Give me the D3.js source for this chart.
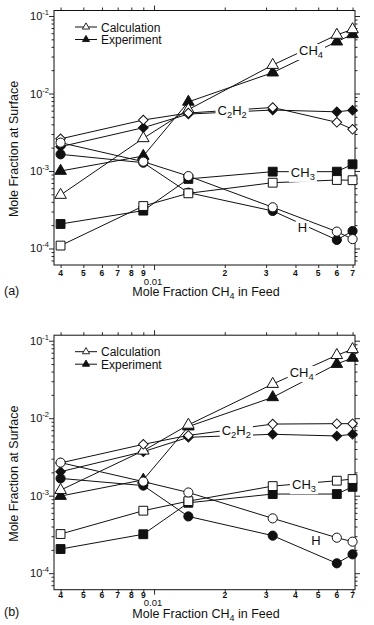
<!DOCTYPE html>
<html>
<head>
<meta charset="utf-8">
<script src="https://cdn.jsdelivr.net/npm/d3@7"></script>
<style>
  body { margin: 0; background: #fff; }
  svg text { font-family: "Liberation Sans", Arial, sans-serif; fill: #111; }
</style>
</head>
<body>
<svg width="374" height="625"></svg>
<script>
// Feed mole fraction of CH4 (x values, shared by all series)
const feed = [0.004, 0.009, 0.014, 0.032, 0.06, 0.07];

// Panel (a)
const ch4CalcA = [4.9e-4, 2.64e-3, 6.2e-3, 0.0233, 0.057, 0.0673];
const ch4ExpA = [1.0e-3, 1.56e-3, 7.8e-3, 0.0186, 0.0467, 0.058];
const c2h2CalcA = [2.6e-3, 4.55e-3, 5.6e-3, 6.6e-3, 4.25e-3, 3.45e-3];
const c2h2ExpA = [2.06e-3, 3.62e-3, 5.43e-3, 6.12e-3, 5.8e-3, 6.1e-3];
const ch3CalcA = [1.09e-4, 3.53e-4, 5.15e-4, 7.06e-4, 7.65e-4, 7.6e-4];
const ch3ExpA = [2.07e-4, 3.08e-4, 7.9e-4, 9.8e-4, 9.8e-4, 1.22e-3];
const hCalcA = [2.32e-3, 1.32e-3, 8.6e-4, 3.4e-4, 1.65e-4, 1.32e-4];
const hExpA = [1.64e-3, 1.28e-3, 5.25e-4, 3.05e-4, 1.29e-4, 1.68e-4];

// Panel (b)
const ch4CalcB = [1.18e-3, 3.8e-3, 8.2e-3, 0.0276, 0.065, 0.0775];
const ch4ExpB = [9.9e-4, 1.6e-3, 7.8e-3, 0.0186, 0.05, 0.06];
const c2h2CalcB = [2.65e-3, 4.6e-3, 6.0e-3, 8.4e-3, 8.5e-3, 8.5e-3];
const c2h2ExpB = [2.04e-3, 3.7e-3, 5.67e-3, 6.2e-3, 5.9e-3, 6.2e-3];
const ch3CalcB = [3.2e-4, 6.4e-4, 8.5e-4, 1.33e-3, 1.56e-3, 1.64e-3];
const ch3ExpB = [2.05e-4, 3.18e-4, 8.1e-4, 1.05e-3, 1.05e-3, 1.3e-3];
const hCalcB = [2.67e-3, 1.52e-3, 1.1e-3, 5.1e-4, 2.87e-4, 2.55e-4];
const hExpB = [1.67e-3, 1.35e-3, 5.4e-4, 3.05e-4, 1.34e-4, 1.75e-4];

// Species labels, placed in data units [x, y]
const labelsA = [["CH4", 0.0466, 0.0333], ["C2H2", 0.0215, 5.6e-3], ["CH3", 0.043, 8.9e-4], ["H", 0.0428, 1.73e-4]];
const labelsB = [["CH4", 0.0425, 0.036], ["C2H2", 0.0224, 6.4e-3], ["CH3", 0.0435, 1.29e-3], ["H", 0.0489, 2.45e-4]];

// Tick labels
const xMinor = [0.004, 0.005, 0.006, 0.007, 0.008, 0.009, 0.02, 0.03, 0.04, 0.05, 0.06, 0.07];
const xMinorLabels = ["4", "5", "6", "7", "8", "9", "2", "3", "4", "5", "6", "7"];
const yMajor = [1e-4, 1e-3, 1e-2, 1e-1];
const yMajorExp = ["-4", "-3", "-2", "-1"];

const svg = d3.select("svg");
const left = 54, right = 355, plotH = 254.5;

const x = d3.scaleLog().domain([0.00375, 0.0717]).range([left, right]);
const y = d3.scaleLog().domain([6.12e-5, 0.1178]).range([plotH, 0]);

let yMinor = [];
for (let k = -5; k <= -1; k++)
  for (let m = 2; m <= 9; m++) {
    const v = m * Math.pow(10, k);
    if (v > 6.12e-5 && v < 0.1178) yMinor.push(v);
  }

const shapes = {
  tri: d3.symbol().type(d3.symbolTriangle).size(58),
  dia: d3.symbol().type(d3.symbolSquare).size(46),
  sq: d3.symbol().type(d3.symbolSquare).size(78),
  circ: d3.symbol().type(d3.symbolCircle).size(66),
};

const panels = [
  {
    tag: "(a)", top: 10.5, labels: labelsA, shift: 0,
    series: [
      [ch4CalcA, "tri", true], [ch4ExpA, "tri", false],
      [c2h2CalcA, "dia", true], [c2h2ExpA, "dia", false],
      [ch3CalcA, "sq", true], [ch3ExpA, "sq", false],
      [hCalcA, "circ", true], [hExpA, "circ", false],
    ],
  },
  {
    tag: "(b)", top: 335.2, labels: labelsB, shift: -3,
    series: [
      [ch4CalcB, "tri", true], [ch4ExpB, "tri", false],
      [c2h2CalcB, "dia", true], [c2h2ExpB, "dia", false],
      [ch3CalcB, "sq", true], [ch3ExpB, "sq", false],
      [hCalcB, "circ", true], [hExpB, "circ", false],
    ],
  },
];

const line = d3.line().x((d) => x(d[0])).y((d) => y(d[1]));

function addSub(sel, name) {
  // "CH4" -> CH with subscript 4, "C2H2" -> C2H2 with subscripts
  name.split(/(\d)/).filter((s) => s).forEach((s) => {
    if (/\d/.test(s)) sel.append("tspan").attr("font-size", "0.72em").attr("dy", 3).text(s);
    else sel.append("tspan").attr("dy", sel.selectAll("tspan").size() ? -3 : 0).text(s);
  });
}

function drawAxis(g, axis, tx, ty, values, size) {
  const a = g.append("g").attr("transform", `translate(${tx},${ty})`)
    .call(axis.tickValues(values).tickSize(size).tickFormat(""));
  a.select(".domain").remove();
  a.selectAll("line").attr("stroke", "#111").attr("stroke-width", 0.9);
  return a;
}

panels.forEach((p) => {
  const g = svg.append("g").attr("transform", `translate(0,${p.top})`);

  // Frame and ticks (all outward)
  g.append("rect").attr("x", left).attr("y", 0)
    .attr("width", right - left).attr("height", plotH)
    .attr("fill", "none").attr("stroke", "#111").attr("stroke-width", 1);

  drawAxis(g, d3.axisLeft(y), left, 0, yMajor, 5);
  drawAxis(g, d3.axisLeft(y), left, 0, yMinor, 2.5);
  drawAxis(g, d3.axisRight(y), right, 0, yMajor, 5);
  drawAxis(g, d3.axisRight(y), right, 0, yMinor, 2.5);
  drawAxis(g, d3.axisBottom(x), 0, plotH, [0.01], 5);
  drawAxis(g, d3.axisBottom(x), 0, plotH, xMinor, 3);
  drawAxis(g, d3.axisTop(x), 0, 0, [0.01], 5);
  drawAxis(g, d3.axisTop(x), 0, 0, xMinor, 3);

  // y tick labels 10^n
  yMajor.forEach((v, i) => {
    const t = g.append("text").attr("x", left - 5).attr("y", y(v) + 4)
      .attr("text-anchor", "end").attr("font-size", 11);
    t.append("tspan").text("10");
    t.append("tspan").attr("font-size", 7.5).attr("dy", -5).text(yMajorExp[i]);
  });

  // x tick labels
  xMinor.forEach((v, i) => {
    g.append("text").attr("x", x(v)).attr("y", plotH + 11 + p.shift)
      .attr("text-anchor", "middle").attr("font-size", 8.5).attr("font-weight", "bold")
      .text(xMinorLabels[i]);
  });
  g.append("text").attr("x", x(0.01) - 1).attr("y", plotH + 19.5 + p.shift)
    .attr("text-anchor", "middle").attr("font-size", 9.5).text("0.01");

  // axis titles
  const xt = g.append("text").attr("x", 206).attr("y", plotH + 31 + p.shift)
    .attr("text-anchor", "middle").attr("font-size", 12.5);
  xt.append("tspan").text("Mole Fraction CH");
  xt.append("tspan").attr("font-size", 9).attr("dy", 3).text("4");
  xt.append("tspan").attr("dy", -3).text(" in Feed");

  g.append("text").attr("transform", `translate(18,138.5) rotate(-90)`)
    .attr("text-anchor", "middle").attr("font-size", 12.5).text("Mole Fraction at Surface");

  g.append("text").attr("x", 4).attr("y", plotH + 29.5 + p.shift)
    .attr("font-size", 12.5).text(p.tag);

  // lines
  p.series.forEach(([vals]) => {
    g.append("path").datum(feed.map((f, i) => [f, vals[i]]))
      .attr("d", line).attr("fill", "none").attr("stroke", "#111").attr("stroke-width", 1);
  });

  // species labels with white backing to break the lines
  p.labels.forEach(([name, lx, ly]) => {
    const lg = g.append("g");
    const t = lg.append("text").attr("x", x(lx)).attr("y", y(ly) + 5)
      .attr("text-anchor", "middle").attr("font-size", 13);
    addSub(t, name);
    const bb = t.node().getBBox();
    lg.insert("rect", "text").attr("x", bb.x - 2).attr("y", bb.y + 1)
      .attr("width", bb.width + 4).attr("height", bb.height - 1).attr("fill", "#fff");
  });

  // markers: filled first, open on top
  const order = p.series.filter((s) => !s[2]).concat(p.series.filter((s) => s[2]));
  order.forEach(([vals, shape, open]) => {
    g.append("g").selectAll("path").data(feed.map((f, i) => [f, vals[i]])).join("path")
      .attr("d", shapes[shape])
      .attr("transform", (d) => `translate(${x(d[0])},${y(d[1])})` + (shape === "dia" ? " rotate(45)" : ""))
      .attr("fill", open ? "#fff" : "#111")
      .attr("stroke", "#111").attr("stroke-width", 1);
  });

  // legend
  [["Calculation", true, 16.5], ["Experiment", false, 29]].forEach(([txt, open, ly]) => {
    g.append("line").attr("x1", 75).attr("x2", 97).attr("y1", ly).attr("y2", ly)
      .attr("stroke", "#111").attr("stroke-width", 1);
    g.append("path").attr("d", d3.symbol().type(d3.symbolTriangle).size(22))
      .attr("transform", `translate(86,${ly})`)
      .attr("fill", open ? "#fff" : "#111").attr("stroke", "#111").attr("stroke-width", 0.9);
    g.append("text").attr("x", 101).attr("y", ly + 4.5).attr("font-size", 12).text(txt);
  });
});
</script>
</body>
</html>
